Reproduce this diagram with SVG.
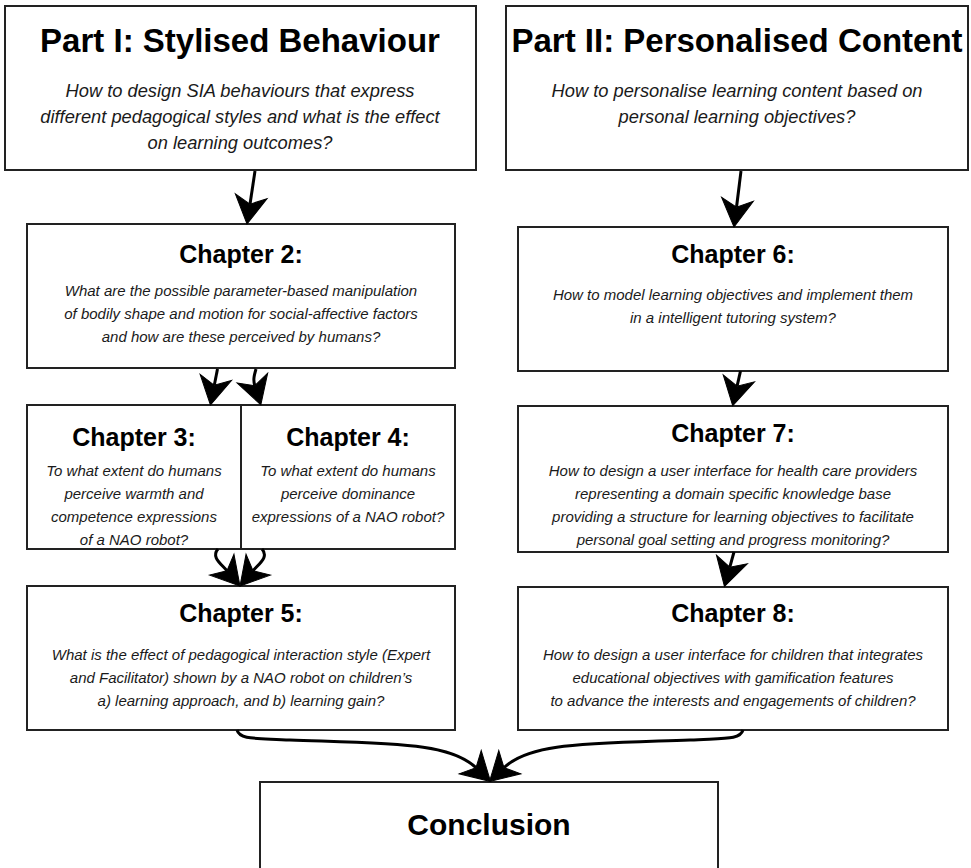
<svg xmlns="http://www.w3.org/2000/svg" width="971" height="868" viewBox="0 0 971 868">
  <style>
    .box { fill: #ffffff; stroke: #222222; stroke-width: 2; }
    .part { font-family: "Liberation Sans", Arial, sans-serif; font-weight: bold; font-size: 33px; fill: #000; text-anchor: middle; }
    .partq { font-family: "Liberation Sans", Arial, sans-serif; font-style: italic; font-size: 18.3px; fill: #1a1a1a; text-anchor: middle; }
    .chap { font-family: "Liberation Sans", Arial, sans-serif; font-weight: bold; font-size: 25px; fill: #000; text-anchor: middle; }
    .q { font-family: "Liberation Sans", Arial, sans-serif; font-style: italic; font-size: 15px; fill: #1a1a1a; text-anchor: middle; }
    .concl { font-family: "Liberation Sans", Arial, sans-serif; font-weight: bold; font-size: 30px; fill: #000; text-anchor: middle; }
    .edge { fill: none; stroke: #000; stroke-width: 3; marker-end: url(#arrow); }
  </style>
  <defs>
    <!-- filled notched arrowhead; reference point is the notch where the line ends -->
    <marker id="arrow" markerUnits="userSpaceOnUse" orient="auto" refX="0" refY="0" markerWidth="40" markerHeight="40" overflow="visible">
      <path d="M20,0 L-8,-16 L0,0 L-8,16 Z" fill="#000" stroke="#000" stroke-width="1" stroke-linejoin="miter"/>
    </marker>
  </defs>

  <rect width="971" height="868" fill="#ffffff"/>

  <g id="part1">
    <rect class="box" x="5" y="6" width="471" height="164"/>
    <text class="part" x="240" y="52">Part I: Stylised Behaviour</text>
    <text class="partq" x="240" y="97">How to design SIA behaviours that express</text>
    <text class="partq" x="240" y="123">different pedagogical styles and what is the effect</text>
    <text class="partq" x="240" y="149">on learning outcomes?</text>
  </g>

  <g id="part2">
    <rect class="box" x="506" y="6" width="462" height="164"/>
    <text class="part" x="737" y="52">Part II: Personalised Content</text>
    <text class="partq" x="737" y="97">How to personalise learning content based on</text>
    <text class="partq" x="737" y="123">personal learning objectives?</text>
  </g>

  <g id="chapter2">
    <rect class="box" x="27" y="224" width="428" height="144"/>
    <text class="chap" x="241" y="263">Chapter 2:</text>
    <text class="q" x="241" y="296">What are the possible parameter-based manipulation</text>
    <text class="q" x="241" y="319">of bodily shape and motion for social-affective factors</text>
    <text class="q" x="241" y="342">and how are these perceived by humans?</text>
  </g>

  <g id="chapter3">
    <rect class="box" x="27" y="405" width="214" height="144"/>
    <text class="chap" x="134" y="446">Chapter 3:</text>
    <text class="q" x="134" y="476">To what extent do humans</text>
    <text class="q" x="134" y="499">perceive warmth and</text>
    <text class="q" x="134" y="522">competence expressions</text>
    <text class="q" x="134" y="545">of a NAO robot?</text>
  </g>

  <g id="chapter4">
    <rect class="box" x="241" y="405" width="214" height="144"/>
    <text class="chap" x="348" y="446">Chapter 4:</text>
    <text class="q" x="348" y="476">To what extent do humans</text>
    <text class="q" x="348" y="499">perceive dominance</text>
    <text class="q" x="348" y="522">expressions of a NAO robot?</text>
  </g>

  <g id="chapter5">
    <rect class="box" x="27" y="586" width="428" height="144"/>
    <text class="chap" x="241" y="622">Chapter 5:</text>
    <text class="q" x="241" y="660">What is the effect of pedagogical interaction style (Expert</text>
    <text class="q" x="241" y="683">and Facilitator) shown by a NAO robot on children’s</text>
    <text class="q" x="241" y="706">a) learning approach, and b) learning gain?</text>
  </g>

  <g id="chapter6">
    <rect class="box" x="518" y="227" width="430" height="144"/>
    <text class="chap" x="733" y="263">Chapter 6:</text>
    <text class="q" x="733" y="300">How to model learning objectives and implement them</text>
    <text class="q" x="733" y="323">in a intelligent tutoring system?</text>
  </g>

  <g id="chapter7">
    <rect class="box" x="518" y="406" width="430" height="146"/>
    <text class="chap" x="733" y="442">Chapter 7:</text>
    <text class="q" x="733" y="476">How to design a user interface for health care providers</text>
    <text class="q" x="733" y="499">representing a domain specific knowledge base</text>
    <text class="q" x="733" y="522">providing a structure for learning objectives to facilitate</text>
    <text class="q" x="733" y="545">personal goal setting and progress monitoring?</text>
  </g>

  <g id="chapter8">
    <rect class="box" x="518" y="587" width="430" height="143"/>
    <text class="chap" x="733" y="622">Chapter 8:</text>
    <text class="q" x="733" y="660">How to design a user interface for children that integrates</text>
    <text class="q" x="733" y="683">educational objectives with gamification features</text>
    <text class="q" x="733" y="706">to advance the interests and engagements of children?</text>
  </g>

  <g id="conclusion">
    <rect class="box" x="260" y="782" width="458" height="100"/>
    <text class="concl" x="489" y="835">Conclusion</text>
  </g>

  <g id="connectors">
    <path class="edge" d="M255,171 L250,204.2"/>
    <path class="edge" d="M741,171 L736.5,207.2"/>
    <path class="edge" d="M217.5,369 L214.3,385.3"/>
    <path class="edge" d="M256,369 C254,376 253,380 254.8,385.7"/>
    <path class="edge" d="M218,549 C211,557 220.5,563.2 227,570.8"/>
    <path class="edge" d="M262,549 C269,557 259.5,563.2 253,570.8"/>
    <path class="edge" d="M740.5,371 L737.1,386.2"/>
    <path class="edge" d="M734,552 L729.8,567.2"/>
    <path class="edge" d="M237,730 C240,740 255,738 290,740 C400,744 450,743 476,767.7"/>
    <path class="edge" d="M743,730 C740,740 725,738 690,740 C580,744 530,743 504,767.7"/>
  </g>
</svg>
